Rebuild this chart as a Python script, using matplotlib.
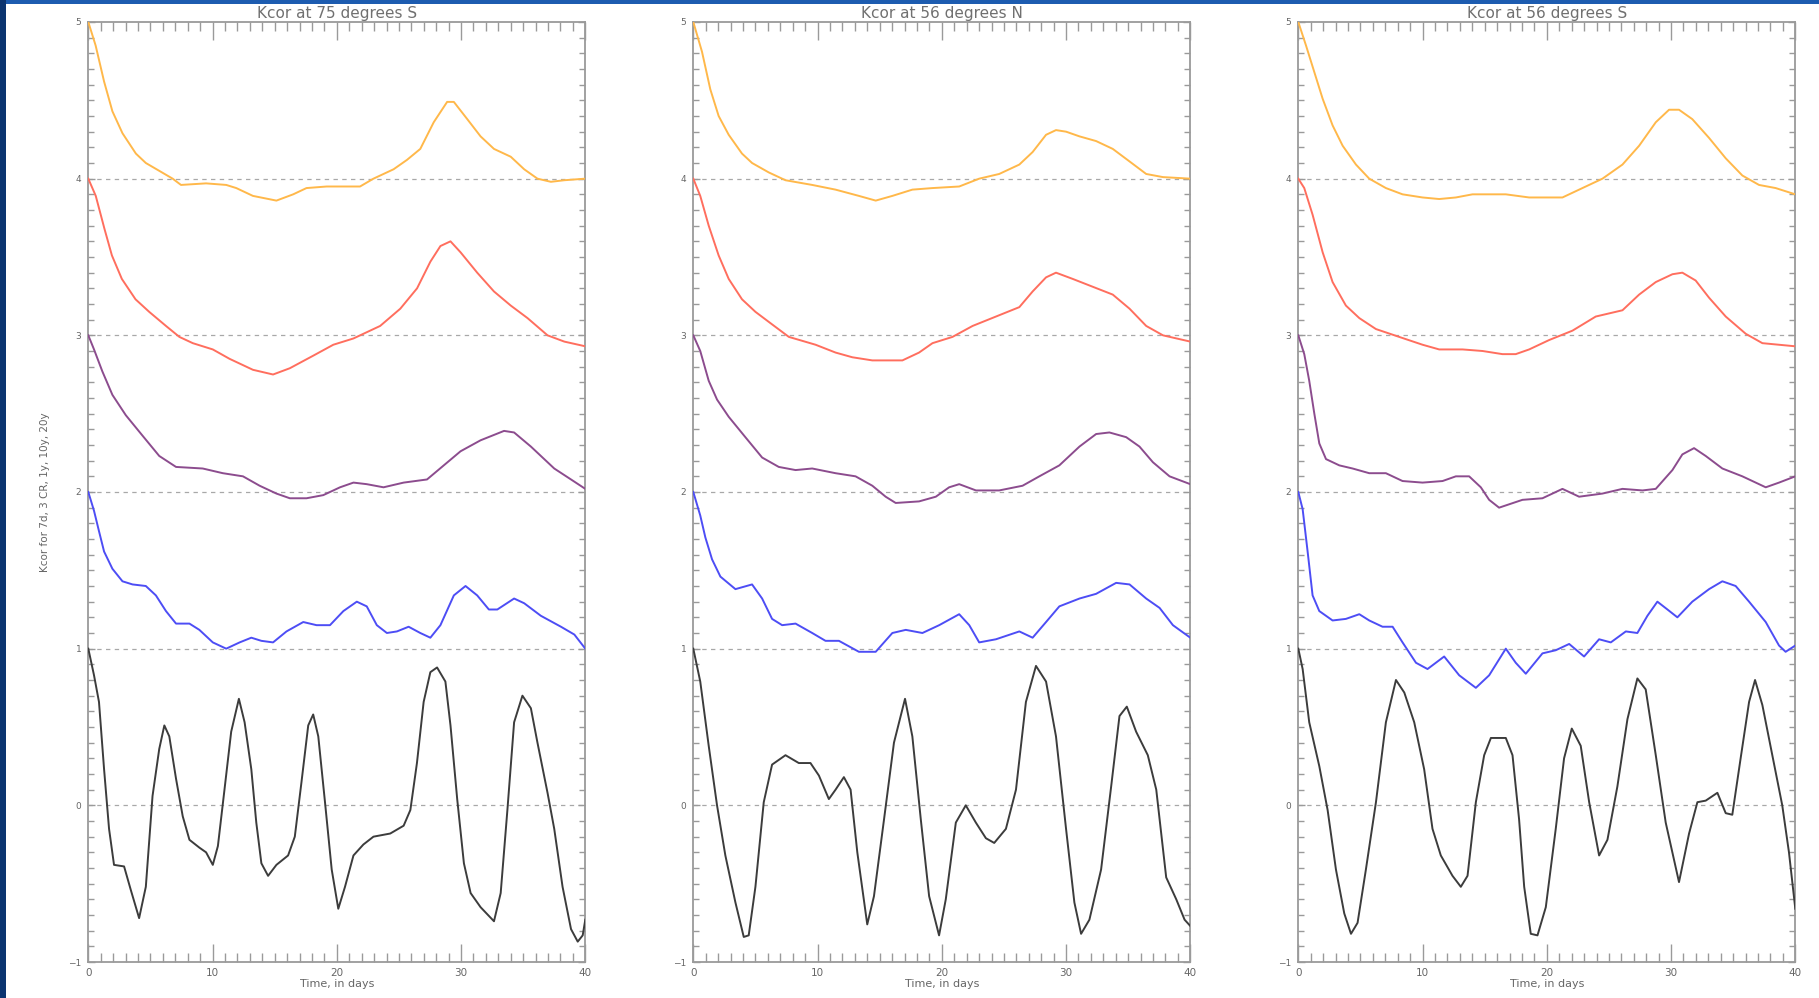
import matplotlib
matplotlib.use("Agg")
import matplotlib.pyplot as plt
from matplotlib.patches import Rectangle
from matplotlib.ticker import MultipleLocator

# ---------------- text ----------------
titles = ["Kcor at 75 degrees S", "Kcor at 56 degrees N", "Kcor at 56 degrees S"]
x_label = "Time, in days"
y_label = "Kcor for 7d, 3 CR, 1y, 10y, 20y"
series_names = ["20y", "10y", "1y", "3 CR", "7d"]
series_colors = ["#ffb84a", "#ff6e5e", "#8c4c8e", "#4d4df5", "#3c3c3c"]
ref_levels = [0, 1, 2, 3, 4]

# ---------------- panel 1: 75 degrees S ----------------
p1_20y_t = [0, 0.59, 1.27, 1.94, 2.75, 3.83, 4.63, 5.71, 6.79, 7.46, 9.48, 11.10, 11.91, 13.25, 15.14, 16.49,
            17.56, 19.18, 21.87, 22.95, 24.57, 25.65, 26.72, 27.80, 28.88, 29.42, 30.50, 31.57, 32.65, 34.00,
            35.08, 36.15, 37.23, 38.31, 40.0]
p1_20y_y = [5.0, 4.85, 4.62, 4.43, 4.29, 4.16, 4.10, 4.05, 4.00, 3.96, 3.97, 3.96, 3.94, 3.89, 3.86, 3.90,
            3.94, 3.95, 3.95, 4.00, 4.06, 4.12, 4.19, 4.36, 4.49, 4.49, 4.38, 4.27, 4.19, 4.14,
            4.06, 4.00, 3.98, 3.99, 4.00]
p1_10y_t = [0, 0.6, 1.3, 1.9, 2.7, 3.8, 4.90, 6.25, 7.33, 8.41, 10.02, 11.37, 13.25, 14.87, 16.22, 18.10,
            19.72, 21.34, 23.49, 25.11, 26.46, 27.53, 28.34, 29.15, 29.96, 31.30, 32.65, 34.0, 35.35, 36.96,
            38.31, 40.0]
p1_10y_y = [4.0, 3.89, 3.68, 3.51, 3.36, 3.23, 3.15, 3.06, 2.99, 2.95, 2.91, 2.85, 2.78, 2.75, 2.79, 2.87,
            2.94, 2.98, 3.06, 3.17, 3.30, 3.47, 3.57, 3.60, 3.53, 3.40, 3.28, 3.19, 3.11, 3.00,
            2.96, 2.93]
p1_1y_t = [0, 0.46, 1.13, 1.94, 3.02, 4.36, 5.71, 7.06, 9.21, 10.83, 12.45, 13.79, 15.14, 16.22, 17.56,
           18.91, 20.26, 21.34, 22.41, 23.76, 25.38, 27.26, 28.61, 29.96, 31.57, 33.46, 34.27, 35.62,
           37.50, 38.85, 40.0]
p1_1y_y = [3.0, 2.91, 2.77, 2.62, 2.49, 2.36, 2.23, 2.16, 2.15, 2.12, 2.10, 2.04, 1.99, 1.96, 1.96,
           1.98, 2.03, 2.06, 2.05, 2.03, 2.06, 2.08, 2.17, 2.26, 2.33, 2.39, 2.38, 2.29,
           2.15, 2.08, 2.02]
p1_3cr_t = [0, 0.46, 0.86, 1.27, 1.94, 2.75, 3.56, 4.63, 5.44, 6.25, 7.06, 8.14, 8.94, 10.02, 11.10, 12.18,
            13.12, 13.93, 14.87, 15.95, 17.30, 18.37, 19.45, 20.53, 21.61, 22.41, 23.22, 24.03, 24.84,
            25.78, 26.72, 27.53, 28.34, 29.42, 30.36, 31.30, 32.24, 32.92, 34.27, 35.08, 36.42, 38.04,
            39.12, 40.0]
p1_3cr_y = [2.0, 1.88, 1.75, 1.62, 1.51, 1.43, 1.41, 1.40, 1.34, 1.24, 1.16, 1.16, 1.12, 1.04, 1.00, 1.04,
            1.07, 1.05, 1.04, 1.11, 1.17, 1.15, 1.15, 1.24, 1.30, 1.27, 1.15, 1.10, 1.11,
            1.14, 1.10, 1.07, 1.15, 1.34, 1.40, 1.34, 1.25, 1.25, 1.32, 1.29, 1.21, 1.14,
            1.09, 1.00]
p1_7d_t = [0, 0.46, 0.86, 1.27, 1.67, 2.07, 2.88, 3.42, 4.09, 4.63,
           5.17, 5.71, 6.12, 6.52, 7.06, 7.60, 8.14, 8.94, 9.48, 10.02,
           10.43, 10.96, 11.50, 12.12, 12.58, 13.12, 13.52, 13.93, 14.47, 15.14,
           16.08, 16.62, 17.16, 17.70, 18.10, 18.51, 19.05, 19.59, 20.12, 20.66,
           21.34, 22.14, 22.95, 24.30, 25.38, 25.92, 26.45, 26.99, 27.53, 28.07,
           28.74, 29.15, 29.69, 30.23, 30.77, 31.57, 32.65, 33.19, 33.73, 34.27,
           34.94, 35.62, 36.15, 36.96, 37.50, 38.17, 38.85, 39.39, 39.79, 40.0]
p1_7d_y = [1.0, 0.83, 0.66, 0.23, -0.15, -0.38, -0.39, -0.54, -0.72, -0.52,
           0.06, 0.36, 0.51, 0.44, 0.17, -0.07, -0.22, -0.27, -0.30, -0.38,
           -0.26, 0.10, 0.47, 0.68, 0.53, 0.23, -0.11, -0.37, -0.45, -0.38,
           -0.32, -0.20, 0.15, 0.51, 0.58, 0.44, 0.02, -0.41, -0.66, -0.52,
           -0.32, -0.25, -0.20, -0.18, -0.13, -0.03, 0.27, 0.66, 0.85, 0.88,
           0.79, 0.51, 0.04, -0.37, -0.56, -0.65, -0.74, -0.56, -0.03, 0.53,
           0.70, 0.62, 0.40, 0.08, -0.15, -0.52, -0.79, -0.87, -0.83, -0.73]

# ---------------- panel 2: 56 degrees N ----------------
p2_20y_t = [0, 0.70, 1.37, 2.04, 2.85, 3.92, 4.73, 6.07, 7.42, 9.57, 11.45, 13.33, 14.68, 16.02, 17.63,
            19.25, 21.40, 23.01, 24.62, 26.24, 27.31, 28.39, 29.19, 30.00, 31.08, 32.42, 33.76, 35.11,
            36.45, 37.80, 40.0]
p2_20y_y = [5.0, 4.81, 4.57, 4.40, 4.28, 4.16, 4.10, 4.04, 3.99, 3.96, 3.93, 3.89, 3.86, 3.89, 3.93,
            3.94, 3.95, 4.00, 4.03, 4.09, 4.17, 4.28, 4.31, 4.30, 4.27, 4.24, 4.19, 4.11,
            4.03, 4.01, 4.00]
p2_10y_t = [0, 0.56, 1.24, 2.04, 2.85, 3.92, 5.00, 6.34, 7.69, 9.84, 11.45, 12.80, 14.41, 16.83, 18.17,
            19.25, 20.86, 22.48, 24.36, 26.24, 27.31, 28.39, 29.19, 30.54, 32.15, 33.76, 35.11, 36.45,
            37.80, 40.0]
p2_10y_y = [4.0, 3.89, 3.70, 3.51, 3.36, 3.23, 3.15, 3.07, 2.99, 2.94, 2.89, 2.86, 2.84, 2.84, 2.89,
            2.95, 2.99, 3.06, 3.12, 3.18, 3.28, 3.37, 3.40, 3.36, 3.31, 3.26, 3.17, 3.06,
            3.00, 2.96]
p2_1y_t = [0, 0.56, 1.24, 1.91, 2.85, 4.19, 5.54, 6.88, 8.23, 9.57, 11.45, 13.06, 14.41, 15.48, 16.29,
           18.17, 19.52, 20.59, 21.40, 22.75, 24.62, 26.50, 27.85, 29.46, 31.08, 32.42, 33.49, 34.84,
           35.91, 36.99, 38.33, 40.0]
p2_1y_y = [3.0, 2.90, 2.71, 2.59, 2.48, 2.35, 2.22, 2.16, 2.14, 2.15, 2.12, 2.10, 2.04, 1.97, 1.93,
           1.94, 1.97, 2.03, 2.05, 2.01, 2.01, 2.04, 2.10, 2.17, 2.29, 2.37, 2.38, 2.35,
           2.29, 2.19, 2.10, 2.05]
p2_3cr_t = [0, 0.56, 0.97, 1.51, 2.18, 3.39, 4.73, 5.54, 6.34, 7.15,
            8.23, 9.57, 10.64, 11.72, 13.33, 14.68, 16.02, 17.10, 18.44, 19.79,
            21.40, 22.21, 23.01, 24.36, 26.24, 27.31, 28.39, 29.46, 31.08, 32.42,
            34.03, 35.11, 36.45, 37.53, 38.60, 40.0]
p2_3cr_y = [2.0, 1.85, 1.71, 1.57, 1.46, 1.38, 1.41, 1.32, 1.19, 1.15,
            1.16, 1.10, 1.05, 1.05, 0.98, 0.98, 1.10, 1.12, 1.10, 1.15,
            1.22, 1.15, 1.04, 1.06, 1.11, 1.07, 1.17, 1.27, 1.32, 1.35,
            1.42, 1.41, 1.32, 1.26, 1.15, 1.07]
p2_7d_t = [0, 0.56, 1.24, 1.91, 2.58, 3.39, 4.06, 4.46, 5.00, 5.67,
           6.34, 7.42, 8.49, 9.43, 10.11, 10.91, 11.45, 12.12, 12.66, 13.20,
           14.00, 14.54, 15.35, 16.15, 17.04, 17.63, 18.31, 18.98, 19.78, 20.32,
           21.13, 21.93, 22.74, 23.55, 24.22, 25.16, 25.97, 26.77, 27.58, 28.39,
           29.19, 30.00, 30.67, 31.21, 31.88, 32.82, 33.63, 34.30, 34.89, 35.64,
           36.58, 37.26, 38.06, 38.87, 39.54, 40.0]
p2_7d_y = [1.0, 0.79, 0.38, 0.00, -0.32, -0.62, -0.84, -0.83, -0.52, 0.02,
           0.26, 0.32, 0.27, 0.27, 0.19, 0.04, 0.10, 0.18, 0.10, -0.30,
           -0.76, -0.58, -0.09, 0.40, 0.68, 0.44, -0.09, -0.58, -0.83, -0.60,
           -0.11, 0.00, -0.11, -0.21, -0.24, -0.15, 0.10, 0.66, 0.89, 0.79,
           0.44, -0.15, -0.62, -0.82, -0.73, -0.41, 0.12, 0.57, 0.63, 0.47,
           0.32, 0.10, -0.46, -0.60, -0.73, -0.77]

# ---------------- panel 3: 56 degrees S ----------------
p3_20y_t = [0, 0.62, 1.29, 1.96, 2.76, 3.57, 4.64, 5.71, 7.05, 8.39,
            10.00, 11.34, 12.68, 14.02, 16.70, 18.58, 21.26, 22.60, 24.48, 26.09,
            27.43, 28.77, 29.84, 30.64, 31.71, 33.06, 34.40, 35.74, 37.08, 38.42, 40.0]
p3_20y_y = [5.0, 4.85, 4.68, 4.51, 4.34, 4.21, 4.09, 4.00, 3.94, 3.90,
            3.88, 3.87, 3.88, 3.90, 3.90, 3.88, 3.88, 3.93, 4.00, 4.09,
            4.21, 4.36, 4.44, 4.44, 4.38, 4.26, 4.13, 4.02, 3.96, 3.94, 3.90]
p3_10y_t = [0, 0.48, 1.15, 1.96, 2.76, 3.83, 4.91, 6.25, 8.12, 10.00,
            11.34, 13.22, 14.83, 16.43, 17.50, 18.58, 20.19, 22.07, 23.94, 26.09,
            27.43, 28.77, 30.11, 30.91, 31.98, 33.06, 34.40, 36.01, 37.35, 40.0]
p3_10y_y = [4.0, 3.94, 3.77, 3.53, 3.34, 3.19, 3.11, 3.04, 2.99, 2.94,
            2.91, 2.91, 2.90, 2.88, 2.88, 2.91, 2.97, 3.03, 3.12, 3.16,
            3.26, 3.34, 3.39, 3.40, 3.35, 3.24, 3.12, 3.01, 2.95, 2.93]
p3_1y_t = [0, 0.48, 0.88, 1.29, 1.69, 2.23, 3.30, 4.37, 5.71, 7.05,
           8.39, 10.00, 11.61, 12.68, 13.75, 14.69, 15.36, 16.16, 18.04, 19.65,
           21.26, 22.60, 24.48, 26.09, 27.70, 28.77, 30.11, 30.91, 31.85, 32.79,
           34.13, 35.74, 37.62, 38.69, 40.0]
p3_1y_y = [3.0, 2.88, 2.71, 2.50, 2.31, 2.21, 2.17, 2.15, 2.12, 2.12,
           2.07, 2.06, 2.07, 2.10, 2.10, 2.03, 1.95, 1.90, 1.95, 1.96,
           2.02, 1.97, 1.99, 2.02, 2.01, 2.02, 2.14, 2.24, 2.28, 2.23,
           2.15, 2.10, 2.03, 2.06, 2.10]
p3_3cr_t = [0, 0.35, 0.75, 1.15, 1.69, 2.76, 3.83, 4.91, 5.71, 6.78,
            7.59, 8.39, 9.47, 10.40, 11.74, 12.95, 14.29, 15.36, 16.70, 17.50,
            18.31, 19.65, 20.72, 21.80, 23.00, 24.21, 25.15, 26.36, 27.29, 28.10,
            28.90, 29.71, 30.51, 31.71, 33.06, 34.13, 35.20, 36.28, 37.62, 38.69,
            39.22, 40.0]
p3_3cr_y = [2.0, 1.89, 1.62, 1.34, 1.24, 1.18, 1.19, 1.22, 1.18, 1.14,
            1.14, 1.04, 0.91, 0.87, 0.95, 0.83, 0.75, 0.83, 1.00, 0.91,
            0.84, 0.97, 0.99, 1.03, 0.95, 1.06, 1.04, 1.11, 1.10, 1.21,
            1.30, 1.25, 1.20, 1.30, 1.38, 1.43, 1.40, 1.30, 1.17, 1.02,
            0.98, 1.02]
p3_7d_t = [0, 0.35, 0.88, 1.69, 2.36, 3.03, 3.70, 4.24, 4.77, 5.44,
           6.25, 7.05, 7.86, 8.53, 9.33, 10.13, 10.80, 11.47, 12.41, 13.08,
           13.62, 14.29, 14.96, 15.50, 16.70, 17.24, 17.77, 18.18, 18.71, 19.25,
           19.92, 20.72, 21.39, 22.01, 22.73, 23.41, 24.21, 24.88, 25.68, 26.49,
           27.29, 27.96, 28.77, 29.57, 30.64, 31.45, 32.12, 32.79, 33.73, 34.40,
           34.93, 35.60, 36.28, 36.76, 37.35, 38.15, 38.95, 39.49, 40.0]
p3_7d_y = [1.0, 0.87, 0.53, 0.25, -0.03, -0.41, -0.69, -0.82, -0.75, -0.41,
           0.02, 0.53, 0.80, 0.72, 0.53, 0.23, -0.15, -0.32, -0.45, -0.52,
           -0.45, 0.02, 0.32, 0.43, 0.43, 0.32, -0.09, -0.52, -0.82, -0.83,
           -0.65, -0.15, 0.30, 0.49, 0.38, 0.02, -0.32, -0.22, 0.12, 0.55,
           0.81, 0.74, 0.32, -0.11, -0.49, -0.18, 0.02, 0.03, 0.08, -0.05,
           -0.06, 0.30, 0.66, 0.80, 0.64, 0.32, 0.00, -0.30, -0.66]

panels = [
    [(p1_20y_t, p1_20y_y), (p1_10y_t, p1_10y_y), (p1_1y_t, p1_1y_y), (p1_3cr_t, p1_3cr_y), (p1_7d_t, p1_7d_y)],
    [(p2_20y_t, p2_20y_y), (p2_10y_t, p2_10y_y), (p2_1y_t, p2_1y_y), (p2_3cr_t, p2_3cr_y), (p2_7d_t, p2_7d_y)],
    [(p3_20y_t, p3_20y_y), (p3_10y_t, p3_10y_y), (p3_1y_t, p3_1y_y), (p3_3cr_t, p3_3cr_y), (p3_7d_t, p3_7d_y)],
]

# ---------------- figure ----------------
W, H = 1819, 998
fig = plt.figure(figsize=(W / 100, H / 100), dpi=100)
fig.patch.set_facecolor("white")

# slide background strips (top and left)
fig.add_artist(Rectangle((0, 1 - 4 / H), 1, 4 / H, transform=fig.transFigure,
                         facecolor="#1d5cb0", edgecolor="none", zorder=0))
fig.add_artist(Rectangle((0, 0), 6 / W, 1, transform=fig.transFigure,
                         facecolor="#0b3470", edgecolor="none", zorder=0))

ax_left_px = [88.3, 693.3, 1298.3]
ax_w_px = 497
ax_bottom_px = 998 - 962
ax_h_px = 940

text_col = "#666666"
axis_col = "#9a9a9a"

for i, (left, title, series) in enumerate(zip(ax_left_px, titles, panels)):
    ax = fig.add_axes([left / W, ax_bottom_px / H, ax_w_px / W, ax_h_px / H])
    ax.set_xlim(0, 40)
    ax.set_ylim(-1, 5)
    for lv in ref_levels:
        ax.axhline(lv, color="#a8a8a8", lw=0.9, dashes=(3.5, 3.5), zorder=1)
    for (t, y), col, name in zip(series, series_colors, series_names):
        assert len(t) == len(y)
        ax.plot(t, y, color=col, lw=1.4, label=name, zorder=3, solid_joinstyle="round")

    ax.xaxis.set_major_locator(MultipleLocator(10))
    ax.xaxis.set_minor_locator(MultipleLocator(1))
    ax.yaxis.set_major_locator(MultipleLocator(1))
    ax.yaxis.set_minor_locator(MultipleLocator(0.1))
    ax.tick_params(axis="x", which="major", direction="in", length=13, width=1,
                   top=True, bottom=True, color=axis_col, labelsize=7.5,
                   labelcolor=text_col, pad=4)
    ax.tick_params(axis="x", which="minor", direction="in", length=6.5, width=1,
                   top=True, bottom=True, color=axis_col)
    ax.tick_params(axis="y", which="major", direction="in", length=5, width=1,
                   left=True, right=True, color=axis_col, labelsize=6.5,
                   labelcolor=text_col, pad=5)
    ax.tick_params(axis="y", which="minor", direction="in", length=4, width=1,
                   left=True, right=True, color=axis_col)
    for sp in ax.spines.values():
        sp.set_color(axis_col)
        sp.set_linewidth(1.3)

    ax.set_title(title, fontsize=11, color="#707070", pad=3)
    ax.set_xlabel(x_label, fontsize=8, color=text_col, labelpad=1)
    if i == 0:
        ax.set_ylabel(y_label, fontsize=7.5, color=text_col)
        ax.yaxis.set_label_coords(-0.078, 0.5)

fig.savefig("out.png", dpi=100, facecolor=fig.get_facecolor())
